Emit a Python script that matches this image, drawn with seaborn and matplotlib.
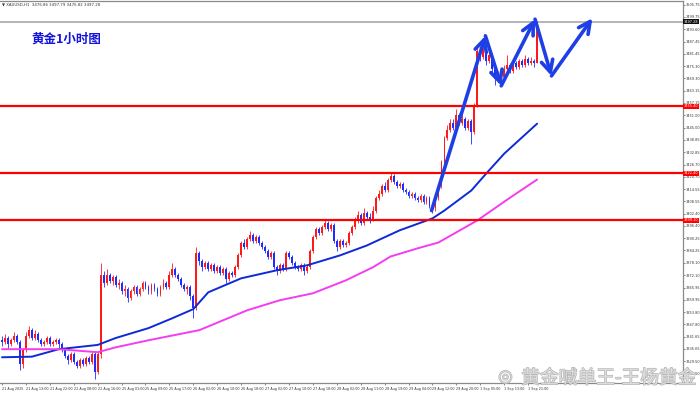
import matplotlib
matplotlib.use("Agg")
import matplotlib.pyplot as plt
import matplotlib.patheffects as pe
import seaborn as sns
import pandas as pd

# ---------------- data ----------------
closes = [3339,3341,3338,3340,3342,3339,3328,3335,3342,3345,
          3341,3343,3340,3338,3339,3341,3338,3339,3340,3338,
          3335,3332,3330,3333,3329,3327,3330,3328,3331,3329,
          3333,3324,3333,3372,3368,3372,3369,3371,3367,3368,
          3364,3365,3361,3364,3366,3363,3365,3368,3366,3364,
          3367,3365,3363,3366,3368,3366,3372,3375,3372,3370,
          3367,3365,3366,3362,3356,3383,3379,3376,3378,3375,
          3377,3374,3376,3373,3375,3370,3373,3372,3376,3382,
          3388,3386,3390,3392,3389,3391,3388,3386,3384,3381,
          3383,3376,3374,3377,3375,3383,3381,3378,3376,3375,
          3377,3374,3376,3384,3391,3395,3393,3396,3398,3395,
          3397,3389,3386,3389,3387,3388,3393,3396,3399,3402,
          3398,3403,3401,3400,3404,3410,3412,3416,3414,3419,
          3421,3418,3416,3417,3414,3413,3411,3412,3410,3409,
          3411,3408,3410,3406,3405,3410,3416,3428,3440,3444,
          3447,3445,3451,3447,3449,3445,3448,3443,3456,3483,
          3480,3484,3478,3481,3474,3469,3472,3470,3474,3476,
          3473,3477,3475,3478,3476,3479,3477,3478,3476.86,3497.28]
highs = [3342,3343,3342,3341,3344,3343,3340,3336,3344,3347,
         3346,3345,3344,3341,3340,3342,3342,3340,3341,3341,
         3339,3336,3333,3334,3334,3330,3331,3331,3332,3332,
         3334,3334,3334,3378,3374,3375,3373,3372,3372,3370,
         3369,3367,3366,3365,3367,3367,3366,3369,3369,3367,
         3368,3368,3366,3367,3370,3369,3374,3378,3376,3373,
         3371,3368,3367,3367,3363,3386,3384,3380,3379,3379,
         3378,3378,3377,3377,3376,3376,3374,3374,3377,3383,
         3389,3390,3391,3394,3393,3392,3392,3389,3387,3385,
         3384,3384,3377,3378,3378,3384,3384,3382,3379,3377,
         3378,3378,3377,3385,3392,3396,3396,3397,3400,3399,
         3398,3398,3390,3390,3390,3389,3394,3397,3401,3404,
         3403,3405,3404,3403,3406,3411,3414,3417,3418,3420,
         3423,3422,3419,3418,3418,3415,3414,3413,3413,3411,
         3412,3412,3411,3411,3407,3411,3417,3429,3441,3446,
         3449,3449,3454,3452,3451,3450,3449,3449,3457,3486,
         3485,3486,3485,3483,3482,3475,3473,3474,3476,3481,
         3477,3478,3478,3479,3479,3481,3480,3480,3479,3497.79]
lows = [3337,3338,3336,3337,3339,3338,3325,3326,3334,3341,
        3340,3340,3339,3337,3337,3338,3337,3337,3338,3336,
        3334,3331,3328,3329,3328,3326,3326,3327,3327,3328,
        3328,3321,3323,3331,3366,3367,3368,3367,3366,3365,
        3363,3362,3359,3360,3363,3362,3362,3364,3365,3363,
        3363,3364,3362,3362,3365,3365,3365,3371,3371,3369,
        3366,3364,3363,3360,3351,3355,3377,3374,3375,3374,
        3374,3373,3373,3372,3372,3368,3369,3371,3371,3375,
        3381,3385,3385,3389,3388,3388,3387,3385,3383,3380,
        3380,3375,3372,3373,3374,3374,3380,3377,3375,3374,
        3374,3372,3373,3375,3383,3390,3392,3392,3395,3394,
        3394,3388,3384,3385,3386,3386,3387,3392,3395,3398,
        3397,3397,3400,3398,3399,3403,3409,3411,3413,3413,
        3418,3417,3415,3415,3413,3412,3410,3410,3409,3408,
        3408,3407,3407,3405,3403,3404,3409,3415,3427,3439,
        3443,3444,3444,3446,3446,3444,3444,3437,3442,3455,
        3478,3479,3476,3477,3472,3466,3468,3468,3469,3473,
        3472,3472,3474,3474,3475,3475,3476,3476,3475,3476.82]
first_open = 3340
opens = [first_open] + closes[:-1]

blue_ma_bars = [0, 10, 19, 32, 38, 49, 57, 64, 69, 80, 92, 102, 113, 122, 133, 144, 148, 157, 162, 168, 179]
blue_ma_vals = [3331.5, 3331.8, 3335.5, 3337.6, 3341.0, 3345.9, 3350.8, 3355.3, 3363.6, 3370.5,
                3374.5, 3376.9, 3381.8, 3386.7, 3394.2, 3400.1, 3404.0, 3413.9, 3422.3, 3432.1, 3446.9]
pink_ma_bars = [0, 19, 32, 38, 49, 66, 82, 93, 104, 115, 124, 130, 139, 146, 159, 170, 179]
pink_ma_vals = [3335.5, 3335.5, 3334.0, 3336.4, 3339.9, 3344.9, 3354.7, 3359.7, 3363.1, 3369.5,
                3375.9, 3381.3, 3385.3, 3388.2, 3399.1, 3410.4, 3419.3]

red_levels = [3455.40, 3422.40, 3399.10]
bid_price = 3497.28

arrow_bars = [143.7, 161.7, 167.0, 178.3, 183.8, 197.5]
arrow_prices = [3404.0, 3490.3, 3465.6, 3498.5, 3470.5, 3499.0]

y_ticks = [3505.75, 3499.75, 3493.60, 3487.45, 3481.45, 3475.30, 3469.30, 3463.15, 3457.15,
           3451.00, 3445.00, 3438.85, 3432.85, 3426.70, 3420.70, 3414.55, 3408.55, 3402.40,
           3396.40, 3390.25, 3384.25, 3378.10, 3372.10, 3365.95, 3359.95, 3353.80, 3347.80,
           3341.65, 3335.65, 3329.50, 3323.50]
x_tick_bars = [0, 8, 16, 24, 32, 40, 48, 56, 64, 72, 80, 88, 96, 104, 112, 120, 128, 136, 144, 152, 160, 168, 176]
x_tick_labels = ["21 Aug 2025", "21 Aug 13:00", "21 Aug 22:00", "22 Aug 08:00", "22 Aug 16:00",
                 "25 Aug 01:00", "25 Aug 09:00", "25 Aug 17:00", "26 Aug 02:00", "26 Aug 10:00",
                 "26 Aug 18:00", "27 Aug 02:00", "27 Aug 10:00", "27 Aug 18:00", "28 Aug 02:00",
                 "28 Aug 11:00", "28 Aug 19:00", "29 Aug 04:00", "29 Aug 12:00", "29 Aug 20:00",
                 "1 Sep 05:00", "1 Sep 13:00", "1 Sep 21:00"]

title_text = "黄金1小时图"
header_text = "▼ XAUUSD,H1  3476.86 3497.79 3476.82 3497.28"
watermark_text = "黄金喊单王-王杨黄金"

# ---------------- drawing ----------------
sns.set_theme(style="white")
plt.rcParams['font.family'] = ['Noto Sans CJK SC', 'DejaVu Sans']

df = pd.DataFrame({"bar": range(len(closes)), "open": opens, "high": highs,
                   "low": lows, "close": closes})
df["up"] = df["close"] >= df["open"]

fig = plt.figure(figsize=(7.0, 3.97), dpi=100)
ax = fig.add_axes([0.0, 0.0353, 0.9757, 0.9622])
ax.set_facecolor("white")

UP = "#ff1a1a"
DN = "#1f2bff"
for is_up, sub in df.groupby("up"):
    col = UP if is_up else DN
    ax.vlines(sub["bar"], sub["low"], sub["high"], color=col, lw=0.6, zorder=3)
    bottoms = sub[["open", "close"]].min(axis=1)
    heights = (sub["close"] - sub["open"]).abs().clip(lower=0.35)
    ax.bar(sub["bar"], heights, bottom=bottoms, width=0.62, color=col, lw=0, zorder=4)

ma_blue = pd.DataFrame({"bar": blue_ma_bars, "val": blue_ma_vals})
ma_pink = pd.DataFrame({"bar": pink_ma_bars, "val": pink_ma_vals})
sns.lineplot(data=ma_blue, x="bar", y="val", ax=ax, color="#0d2ad6", lw=1.4, zorder=5, estimator=None)
sns.lineplot(data=ma_pink, x="bar", y="val", ax=ax, color="#f53cf0", lw=1.4, zorder=5, estimator=None)

for lv in red_levels:
    ax.axhline(lv, color="#ff0000", lw=1.6, zorder=6)
ax.axhline(bid_price, color="#a8a8a8", lw=1.2, zorder=2)

# hand-drawn arrows
for k in range(len(arrow_bars) - 1):
    ax.annotate("", xy=(arrow_bars[k + 1], arrow_prices[k + 1]),
                xytext=(arrow_bars[k], arrow_prices[k]),
                arrowprops=dict(arrowstyle="->,head_length=0.7,head_width=0.35",
                                color="#1f3fe6", lw=2.6, shrinkA=0, shrinkB=0,
                                capstyle="round", joinstyle="round"),
                zorder=8, annotation_clip=False)

ax.set_xlim(-0.67, 227.8)
ax.set_ylim(3318.8, 3507.5)

# axes look (MT4 style)
ax.spines["left"].set_visible(False)
for s in ["right", "bottom", "top"]:
    ax.spines[s].set_visible(True)
    ax.spines[s].set_color("#8a8a8a")
    ax.spines[s].set_linewidth(0.9)

ax.yaxis.tick_right()
ax.set_yticks(y_ticks)
ax.set_yticklabels([f"{v:.2f}" for v in y_ticks], family=["DejaVu Sans"])
ax.tick_params(axis="y", which="both", right=True, left=False, length=1.2, width=0.5,
               pad=0.6, labelsize=2.5, colors="#555555", labelcolor="#333333")
ax.set_xticks(x_tick_bars)
ax.set_xticklabels(x_tick_labels, ha="left", family=["DejaVu Sans"])
ax.tick_params(axis="x", bottom=True, length=1.5, width=0.5, pad=1.5, labelsize=2.4,
               colors="#555555", labelcolor="#333333")
ax.set_xlabel("")
ax.set_ylabel("")
ax.grid(False)

# price boxes on right axis
for lv in red_levels:
    ax.text(1.001, lv, f"{lv:.2f}", transform=ax.get_yaxis_transform(), fontsize=2.5,
            color="white", va="center", ha="left",
            bbox=dict(boxstyle="square,pad=0.2", fc="#ff0000", ec="none"), zorder=10,
            clip_on=False, family=["DejaVu Sans"])
ax.text(1.001, bid_price, f"{bid_price:.2f}", transform=ax.get_yaxis_transform(), fontsize=2.5,
        color="white", va="center", ha="left",
        bbox=dict(boxstyle="square,pad=0.2", fc="#111111", ec="none"), zorder=10,
        clip_on=False, family=["DejaVu Sans"])

# texts
fig.text(0.003, 0.988, header_text, fontsize=2.8, color="#333333", va="center", ha="left",
         family=["DejaVu Sans"])
ax.text(0.046, 0.900, title_text, transform=ax.transAxes, fontsize=9.0, fontweight="bold",
        color="#1414dc", va="center", ha="left", zorder=9)
stroke = [pe.withStroke(linewidth=0.9, foreground="#a9a9a9")]
fig.text(0.995, 0.048, watermark_text, fontsize=13.5, color="#e2e2e2", alpha=0.9,
         va="center", ha="right", zorder=20, path_effects=stroke)
fig.text(0.722, 0.052, "◎", fontsize=12, color="#e2e2e2", alpha=0.9,
         va="center", ha="center", zorder=20, family=["DejaVu Sans"], path_effects=stroke)

fig.savefig("out.png", dpi=100, facecolor="white")
